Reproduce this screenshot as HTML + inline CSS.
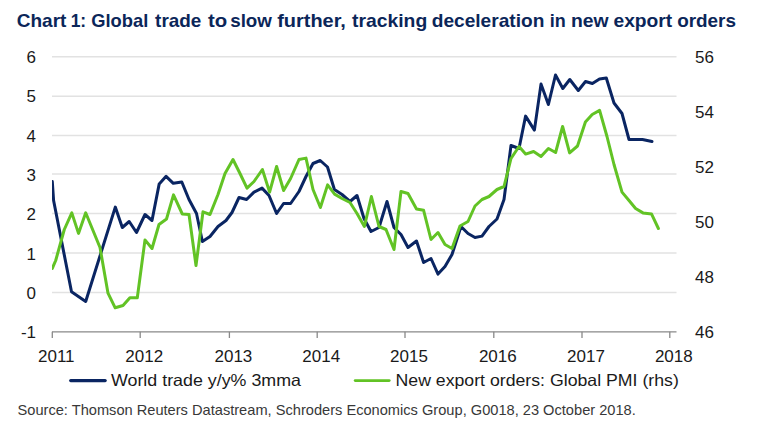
<!DOCTYPE html>
<html><head><meta charset="utf-8"><style>
html,body{margin:0;padding:0;background:#fff;width:770px;height:434px;overflow:hidden}
body{position:relative;font-family:"Liberation Sans", sans-serif}
</style></head><body>
<svg width="770" height="434" viewBox="0 0 770 434" style="position:absolute;left:0;top:0">
<line x1="52" y1="56.80" x2="676.5" y2="56.80" stroke="#e2e2e2" stroke-width="1.5"/>
<line x1="52" y1="96.20" x2="676.5" y2="96.20" stroke="#e2e2e2" stroke-width="1.5"/>
<line x1="52" y1="135.60" x2="676.5" y2="135.60" stroke="#e2e2e2" stroke-width="1.5"/>
<line x1="52" y1="174.10" x2="676.5" y2="174.10" stroke="#e2e2e2" stroke-width="1.5"/>
<line x1="52" y1="213.50" x2="676.5" y2="213.50" stroke="#e2e2e2" stroke-width="1.5"/>
<line x1="52" y1="253.00" x2="676.5" y2="253.00" stroke="#e2e2e2" stroke-width="1.5"/>
<line x1="52" y1="292.50" x2="676.5" y2="292.50" stroke="#e2e2e2" stroke-width="1.5"/>
<line x1="52" y1="331.8" x2="676.5" y2="331.8" stroke="#898989" stroke-width="1.3"/>
<line x1="52.3" y1="331.8" x2="52.3" y2="338" stroke="#898989" stroke-width="1.3"/>
<line x1="140.2" y1="331.8" x2="140.2" y2="338" stroke="#898989" stroke-width="1.3"/>
<line x1="229.4" y1="331.8" x2="229.4" y2="338" stroke="#898989" stroke-width="1.3"/>
<line x1="317.2" y1="331.8" x2="317.2" y2="338" stroke="#898989" stroke-width="1.3"/>
<line x1="405" y1="331.8" x2="405" y2="338" stroke="#898989" stroke-width="1.3"/>
<line x1="493.8" y1="331.8" x2="493.8" y2="338" stroke="#898989" stroke-width="1.3"/>
<line x1="582" y1="331.8" x2="582" y2="338" stroke="#898989" stroke-width="1.3"/>
<line x1="669.8" y1="331.8" x2="669.8" y2="338" stroke="#898989" stroke-width="1.3"/>
<defs><clipPath id="c"><rect x="52" y="40" width="640" height="300"/></clipPath></defs>
<polyline clip-path="url(#c)" points="52.3,181.5 53.6,200.5 71.5,291.8 85.7,301.5 115.3,207.1 122.3,227.5 129.2,221.5 136.5,232.5 145,214.5 152,220.5 159.2,183.9 166.1,176.3 173.3,183.3 181.8,182 189,199.5 196.5,213.5 202.4,241.5 210,236.5 218,226.5 226,220.5 232,212.5 239,197.5 246.6,199.5 254,192.1 262,188.1 269,195.5 276.6,213.5 283.6,203.5 290.6,203.5 299,191.5 306,176.5 313,163.5 320.2,160.5 327.5,167 334.4,189.5 342,194.5 350,201.5 357,195.5 364,218.5 371,231.5 379,227.5 387,201.5 394,227.5 401,234.5 408,247.5 416.5,241 423.6,262.5 431,258.5 438,274.1 445,266.5 452,254.5 461,226.5 468,233.5 475,237.5 482,236.1 489,226.5 497,219 504,199.5 511,145.5 519,148.5 525.6,116.1 534.4,130.1 541,84.1 548.4,104.5 555.5,75 562.8,88.5 569.8,79.5 578.3,90.5 585.5,81.5 592.4,83.5 599.5,79 606.3,78 614,103 622,113.5 629,139.5 642.5,139.5 652,141.5" fill="none" stroke="#0a2562" stroke-width="3" stroke-linejoin="round" stroke-linecap="round"/>
<polyline clip-path="url(#c)" points="52.3,268.5 55.7,260.5 64.3,229.5 71.8,212.9 78.5,233.4 85.7,212.8 100,247.5 108,293.2 115.2,307.8 123,305.5 129.9,297.7 137.3,297.7 145,239.9 152,248.5 159,224.5 166.5,219 173.5,194.9 182.3,214 189,214.5 196,265.5 203,211.8 210,214.5 218,194.5 225,173.5 233,159.5 240,173.5 247,188.1 254,181.5 262.4,169.5 269.6,192.1 276.6,166.5 283.6,190.5 290.6,178.5 299,159.5 306,158.1 313,189.5 320.4,207.5 327.6,184.9 334.6,194.1 342,198.5 350,202.5 357,213.5 364.4,226.5 371.4,196.5 379,226.5 386,229.5 394,249.5 401,191.5 408,193.5 416.5,209 423.6,210.3 431,239.5 438,232.5 445,244.5 452,248.5 460,226 468,221.5 475,206 482,199.5 489,196.5 497,189.5 504,186.5 511,158.5 519,146.5 525.6,154.1 533.6,151.5 541,156.5 548.4,148.5 555.6,152.5 562.6,126.5 569.6,152.9 577.5,146 585.4,122 592.2,114.5 599.6,110.4 607,136.5 614,164.5 622,192.1 629,200.5 635.6,208.5 643,212.9 651.6,214.1 658.4,228.5" fill="none" stroke="#62c325" stroke-width="3" stroke-linejoin="round" stroke-linecap="round"/>
<text x="36" y="63.20" text-anchor="end" font-family='"Liberation Sans", sans-serif' font-size="17" fill="#1a1a1a">6</text>
<text x="36" y="102.49" text-anchor="end" font-family='"Liberation Sans", sans-serif' font-size="17" fill="#1a1a1a">5</text>
<text x="36" y="141.77" text-anchor="end" font-family='"Liberation Sans", sans-serif' font-size="17" fill="#1a1a1a">4</text>
<text x="36" y="181.06" text-anchor="end" font-family='"Liberation Sans", sans-serif' font-size="17" fill="#1a1a1a">3</text>
<text x="36" y="220.34" text-anchor="end" font-family='"Liberation Sans", sans-serif' font-size="17" fill="#1a1a1a">2</text>
<text x="36" y="259.63" text-anchor="end" font-family='"Liberation Sans", sans-serif' font-size="17" fill="#1a1a1a">1</text>
<text x="36" y="298.92" text-anchor="end" font-family='"Liberation Sans", sans-serif' font-size="17" fill="#1a1a1a">0</text>
<text x="36" y="338.20" text-anchor="end" font-family='"Liberation Sans", sans-serif' font-size="17" fill="#1a1a1a">-1</text>
<text x="695" y="63.20" font-family='"Liberation Sans", sans-serif' font-size="17" fill="#1a1a1a">56</text>
<text x="695" y="118.20" font-family='"Liberation Sans", sans-serif' font-size="17" fill="#1a1a1a">54</text>
<text x="695" y="173.20" font-family='"Liberation Sans", sans-serif' font-size="17" fill="#1a1a1a">52</text>
<text x="695" y="228.20" font-family='"Liberation Sans", sans-serif' font-size="17" fill="#1a1a1a">50</text>
<text x="695" y="283.20" font-family='"Liberation Sans", sans-serif' font-size="17" fill="#1a1a1a">48</text>
<text x="695" y="338.20" font-family='"Liberation Sans", sans-serif' font-size="17" fill="#1a1a1a">46</text>
<text x="56.3" y="362" text-anchor="middle" font-family='"Liberation Sans", sans-serif' font-size="17" fill="#1a1a1a">2011</text>
<text x="144.2" y="362" text-anchor="middle" font-family='"Liberation Sans", sans-serif' font-size="17" fill="#1a1a1a">2012</text>
<text x="233.4" y="362" text-anchor="middle" font-family='"Liberation Sans", sans-serif' font-size="17" fill="#1a1a1a">2013</text>
<text x="321.2" y="362" text-anchor="middle" font-family='"Liberation Sans", sans-serif' font-size="17" fill="#1a1a1a">2014</text>
<text x="409.0" y="362" text-anchor="middle" font-family='"Liberation Sans", sans-serif' font-size="17" fill="#1a1a1a">2015</text>
<text x="497.8" y="362" text-anchor="middle" font-family='"Liberation Sans", sans-serif' font-size="17" fill="#1a1a1a">2016</text>
<text x="586.0" y="362" text-anchor="middle" font-family='"Liberation Sans", sans-serif' font-size="17" fill="#1a1a1a">2017</text>
<text x="673.8" y="362" text-anchor="middle" font-family='"Liberation Sans", sans-serif' font-size="17" fill="#1a1a1a">2018</text>
<line x1="70.7" y1="380.6" x2="105.2" y2="380.6" stroke="#0a2562" stroke-width="3.2" stroke-linecap="round"/>
<text x="111" y="386" font-family='"Liberation Sans", sans-serif' font-size="16.5" fill="#1a1a1a" textLength="190" lengthAdjust="spacingAndGlyphs">World trade y/y% 3mma</text>
<line x1="355.2" y1="380.6" x2="389.2" y2="380.6" stroke="#62c325" stroke-width="2.9" stroke-linecap="round"/>
<text x="395.5" y="386" font-family='"Liberation Sans", sans-serif' font-size="16.5" fill="#1a1a1a" textLength="283.3" lengthAdjust="spacingAndGlyphs">New export orders: Global PMI (rhs)</text>
<text x="16.77" y="26.8" font-family='"Liberation Sans", sans-serif' font-weight="bold" font-size="18.5" fill="#0b2659" textLength="49.65" lengthAdjust="spacingAndGlyphs">Chart</text>
<text x="70.66" y="26.8" font-family='"Liberation Sans", sans-serif' font-weight="bold" font-size="18.5" fill="#0b2659" textLength="15.51" lengthAdjust="spacingAndGlyphs">1:</text>
<text x="91.31" y="26.8" font-family='"Liberation Sans", sans-serif' font-weight="bold" font-size="18.5" fill="#0b2659" textLength="56.94" lengthAdjust="spacingAndGlyphs">Global</text>
<text x="155.10" y="26.8" font-family='"Liberation Sans", sans-serif' font-weight="bold" font-size="18.5" fill="#0b2659" textLength="46.16" lengthAdjust="spacingAndGlyphs">trade</text>
<text x="208.00" y="26.8" font-family='"Liberation Sans", sans-serif' font-weight="bold" font-size="18.5" fill="#0b2659" textLength="19.22" lengthAdjust="spacingAndGlyphs">to</text>
<text x="230.19" y="26.8" font-family='"Liberation Sans", sans-serif' font-weight="bold" font-size="18.5" fill="#0b2659" textLength="41.74" lengthAdjust="spacingAndGlyphs">slow</text>
<text x="277.20" y="26.8" font-family='"Liberation Sans", sans-serif' font-weight="bold" font-size="18.5" fill="#0b2659" textLength="68.69" lengthAdjust="spacingAndGlyphs">further,</text>
<text x="352.10" y="26.8" font-family='"Liberation Sans", sans-serif' font-weight="bold" font-size="18.5" fill="#0b2659" textLength="75.11" lengthAdjust="spacingAndGlyphs">tracking</text>
<text x="431.77" y="26.8" font-family='"Liberation Sans", sans-serif' font-weight="bold" font-size="18.5" fill="#0b2659" textLength="112.57" lengthAdjust="spacingAndGlyphs">deceleration</text>
<text x="549.63" y="26.8" font-family='"Liberation Sans", sans-serif' font-weight="bold" font-size="18.5" fill="#0b2659" textLength="16.01" lengthAdjust="spacingAndGlyphs">in</text>
<text x="570.95" y="26.8" font-family='"Liberation Sans", sans-serif' font-weight="bold" font-size="18.5" fill="#0b2659" textLength="37.62" lengthAdjust="spacingAndGlyphs">new</text>
<text x="613.46" y="26.8" font-family='"Liberation Sans", sans-serif' font-weight="bold" font-size="18.5" fill="#0b2659" textLength="58.77" lengthAdjust="spacingAndGlyphs">export</text>
<text x="677.18" y="26.8" font-family='"Liberation Sans", sans-serif' font-weight="bold" font-size="18.5" fill="#0b2659" textLength="58.81" lengthAdjust="spacingAndGlyphs">orders</text>
<text x="17.5" y="414.5" font-family='"Liberation Sans", sans-serif' font-size="14.6" fill="#383838" textLength="618.3" lengthAdjust="spacingAndGlyphs">Source: Thomson Reuters Datastream, Schroders Economics Group, G0018, 23 October 2018.</text>
</svg>
</body></html>
